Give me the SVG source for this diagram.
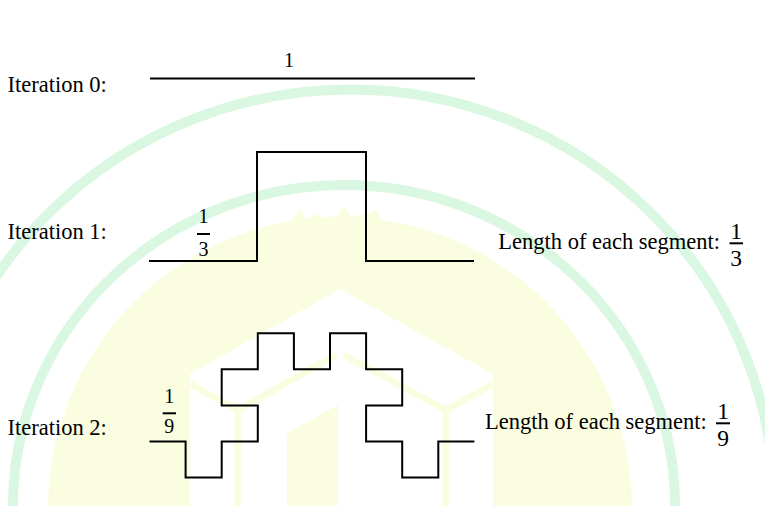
<svg xmlns="http://www.w3.org/2000/svg" width="765" height="506" viewBox="0 0 765 506">
<style>
.lbl{font-family:"Liberation Serif","Times New Roman",serif;font-size:22.5px;fill:#000}
.num{font-family:"Liberation Serif","Times New Roman",serif;fill:#000;text-anchor:middle}
.ln{fill:none;stroke:#000;stroke-width:2;stroke-linejoin:miter;stroke-linecap:butt}
.bar{stroke:#000;stroke-width:2}
.arc{fill:none;stroke:#daf7e2;stroke-width:10}
.yl{fill:none;stroke:#fbfde0;stroke-width:7}
</style>
<rect width="765" height="506" fill="#fff"/>
<g id="watermark">
  <path class="arc" d="M -75 509.5 A 425 420 0 0 1 775 509.5"/>
  <path class="arc" d="M 13 506 A 331 321 0 0 1 675 506"/>
  <circle cx="340" cy="509" r="292" fill="#fbfde0"/>
  <polygon fill="#fbfde0" points="292,220 300,208 306,219 318,214 324,218 336,216 344,206 350,217 366,214 376,210 382,220"/>
  <polygon fill="#fff" points="340,289 493,374 493,506 190,506 190,374"/>
  <polyline class="yl" points="190,384 238,410 238,506"/>
  <polyline class="yl" points="238,410 336,355"/>
  <polyline class="yl" points="344,355 446,410 446,506"/>
  <polyline class="yl" points="446,410 493,384"/>
  <polygon fill="#fbfde0" points="287,433 338,405 338,506 287,506"/>
</g>
<g id="iteration0">
  <text class="lbl" x="7.5" y="92">Iteration 0:</text>
  <text class="num" x="289" y="66.5" font-size="20">1</text>
  <line class="ln" x1="150" y1="78.5" x2="475" y2="78.5"/>
</g>
<g id="iteration1">
  <text class="lbl" x="7.5" y="239">Iteration 1:</text>
  <text class="num" x="203.5" y="223" font-size="20">1</text>
  <line class="bar" x1="197" y1="234" x2="210" y2="234"/>
  <text class="num" x="203.5" y="256" font-size="20">3</text>
  <polyline class="ln" points="149,261 257,261 257,152 366,152 366,261 474,261"/>
  <text class="lbl" x="498.3" y="249.3">Length of each segment:</text>
  <text class="num" x="736" y="239" font-size="23.5">1</text>
  <line class="bar" x1="729.5" y1="243.3" x2="743" y2="243.3"/>
  <text class="num" x="736" y="265.5" font-size="23.5">3</text>
</g>
<g id="iteration2">
  <text class="lbl" x="7.5" y="435">Iteration 2:</text>
  <text class="num" x="169.3" y="403" font-size="20">1</text>
  <line class="bar" x1="162.7" y1="413.3" x2="176" y2="413.3"/>
  <text class="num" x="169.3" y="433" font-size="20">9</text>
  <polyline class="ln" points="149.5,441.5 185.6,441.5 185.6,477.6 221.7,477.6 221.7,441.5 257.8,441.5 257.8,405.4 221.7,405.4 221.7,369.3 257.8,369.3 257.8,333.2 293.9,333.2 293.9,369.3 330,369.3 330,333.2 366.1,333.2 366.1,369.3 402.2,369.3 402.2,405.4 366.1,405.4 366.1,441.5 402.2,441.5 402.2,477.6 438.3,477.6 438.3,441.5 474.4,441.5"/>
  <text class="lbl" x="485" y="429.3">Length of each segment:</text>
  <text class="num" x="723" y="419.3" font-size="23.5">1</text>
  <line class="bar" x1="716" y1="423.3" x2="730" y2="423.3"/>
  <text class="num" x="723" y="445.7" font-size="23.5">9</text>
</g>
</svg>
